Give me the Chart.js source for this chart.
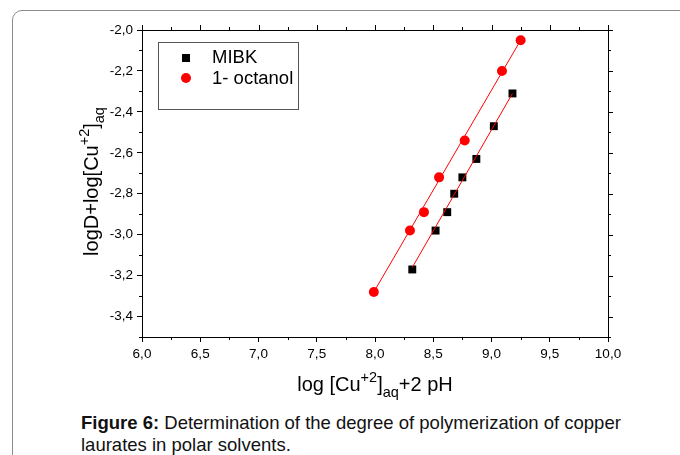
<!DOCTYPE html>
<html>
<head>
<meta charset="utf-8">
<script src="https://cdn.jsdelivr.net/npm/chart.js@4/dist/chart.umd.min.js"></script>
<style>
    html, body { margin: 0; padding: 0; background: #fff; overflow: hidden; }
    body { width: 680px; height: 455px; position: relative; font-family: "Liberation Sans", Arial, sans-serif; }
    .frame {
        position: absolute; left: 12px; top: 10px; width: 720px; height: 520px;
        border: 1px solid #8c8c8c; border-radius: 10px;
    }
    #plot { position: absolute; left: 0; top: 0; }
    .caption {
        position: absolute; left: 81px; top: 412px; width: 590px; white-space: nowrap;
        font-size: 18.5px; line-height: 22px; color: #111;
    }
    .caption b { font-weight: bold; }
</style>
</head>
<body>
<div class="frame"></div>
<canvas id="plot" width="680" height="400"></canvas>
<div class="caption"><b>Figure 6:</b> Determination of the degree of polymerization of copper<br>laurates in polar solvents.</div>

<script>
// ==========================================
// logD + log[Cu+2]aq vs log[Cu+2]aq + 2 pH
// ==========================================

const FONT = '"Liberation Sans", Arial, sans-serif';

// Measured points
const mibkX = [8.32, 8.52, 8.62, 8.68, 8.75, 8.87, 9.02, 9.18];
const mibkY = [-3.17, -2.98, -2.89, -2.80, -2.72, -2.63, -2.47, -2.31];
const octanolX = [7.99, 8.30, 8.42, 8.55, 8.77, 9.09, 9.25];
const octanolY = [-3.28, -2.98, -2.89, -2.72, -2.54, -2.20, -2.05];

// Fitted straight lines (end points)
const mibkFitX = [8.32, 9.18];
const mibkFitY = [-3.16, -2.31];
const octanolFitX = [7.99, 9.25];
const octanolFitY = [-3.28, -2.05];

// Axis ranges and ticks
const xRange = [6.0, 10.0];
const yRange = [-3.5, -2.0];
const xMajor = 0.5, xMinor = 0.25;
const yMajor = 0.2, yMinor = 0.1;

const legendItems = ['MIBK', '1- octanol'];

const toPoints = (xs, ys) => xs.map((x, i) => ({ x: x, y: ys[i] }));
const commaLabel = v => Number(v).toFixed(1).replace('.', ',');

// Text with superscript / subscript pieces, centred on (x, y)
function drawRich(ctx, parts, x, y) {
    let total = 0;
    parts.forEach(p => {
        ctx.font = p.size + 'px ' + FONT;
        p.w = ctx.measureText(p.t).width;
        total += p.w;
    });
    let cx = x - total / 2;
    ctx.textAlign = 'left';
    ctx.textBaseline = 'alphabetic';
    parts.forEach(p => {
        ctx.font = p.size + 'px ' + FONT;
        ctx.fillText(p.t, cx, y + (p.dy || 0));
        cx += p.w;
    });
}

const titleParts = (lead) => [
    { t: lead, size: 20 },
    { t: '+2', size: 14.5, dy: -9 },
    { t: ']', size: 20 },
    { t: 'aq', size: 14.5, dy: 6 }
];

// Box, minor ticks, mirrored ticks, legend and axis titles
const frameDecor = {
    id: 'frameDecor',
    afterDraw(chart) {
        const ctx = chart.ctx;
        const a = chart.chartArea;
        const xs = chart.scales.x, ys = chart.scales.y;
        ctx.save();
        ctx.strokeStyle = '#000';
        ctx.lineWidth = 1;

        ctx.beginPath();
        ctx.moveTo(a.left, a.top + 0.5); ctx.lineTo(a.right, a.top + 0.5);
        ctx.moveTo(a.right + 0.5, a.top); ctx.lineTo(a.right + 0.5, a.bottom);
        ctx.stroke();

        ctx.beginPath();
        const nx = Math.round((xRange[1] - xRange[0]) / xMinor);
        for (let i = 0; i <= nx; i++) {
            const px = Math.round(xs.getPixelForValue(xRange[0] + i * xMinor)) + 0.5;
            const len = i % 2 === 0 ? 5 : 3;
            if (i % 2 === 1) { ctx.moveTo(px, a.bottom); ctx.lineTo(px, a.bottom + len); }
            ctx.moveTo(px, a.top); ctx.lineTo(px, a.top - len);
        }
        const ny = Math.round((yRange[1] - yRange[0]) / yMinor);
        for (let i = 0; i <= ny; i++) {
            const v = yRange[0] + i * yMinor;
            const py = Math.round(ys.getPixelForValue(v)) + 0.5;
            const major = Math.abs(Math.round(v * 10)) % 2 === 0;
            const len = major ? 5 : 3;
            if (!major) { ctx.moveTo(a.left, py); ctx.lineTo(a.left - len, py); }
            ctx.moveTo(a.right, py); ctx.lineTo(a.right + len, py);
        }
        ctx.stroke();

        // legend
        const ds = chart.data.datasets;
        ctx.strokeStyle = '#555';
        ctx.strokeRect(158.5, 42.5, 140, 67);
        ctx.fillStyle = ds[0].backgroundColor;
        ctx.fillRect(182, 54, 8, 8);
        ctx.fillStyle = ds[1].backgroundColor;
        ctx.beginPath();
        ctx.arc(186, 78, 5, 0, Math.PI * 2);
        ctx.fill();
        ctx.fillStyle = '#000';
        ctx.font = '18.5px ' + FONT;
        ctx.textAlign = 'left';
        ctx.textBaseline = 'middle';
        ctx.fillText(legendItems[0], 212, 58);
        ctx.fillText(legendItems[1], 212, 79);

        // axis titles
        ctx.fillStyle = '#000';
        drawRich(ctx, titleParts('log [Cu').concat([{ t: '+2 pH', size: 20 }]), (a.left + a.right) / 2, 391);
        ctx.translate(98, (a.top + a.bottom) / 2 - 2);
        ctx.rotate(-Math.PI / 2);
        drawRich(ctx, titleParts('logD+log[Cu'), 0, 0);
        ctx.restore();
    }
};

new Chart(document.getElementById('plot'), {
    type: 'scatter',
    data: {
        datasets: [
            {
                label: legendItems[0],
                data: toPoints(mibkX, mibkY),
                backgroundColor: '#000',
                borderColor: '#000',
                pointStyle: 'rect',
                pointRadius: 5.6,
                borderWidth: 0,
                order: 1
            },
            {
                label: legendItems[1],
                data: toPoints(octanolX, octanolY),
                backgroundColor: '#ff0000',
                borderColor: '#ff0000',
                pointStyle: 'circle',
                pointRadius: 5,
                borderWidth: 0,
                order: 1
            },
            {
                label: 'fit MIBK',
                data: toPoints(mibkFitX, mibkFitY),
                showLine: true,
                borderColor: '#ff0000',
                borderWidth: 1,
                pointRadius: 0,
                order: 0
            },
            {
                label: 'fit 1- octanol',
                data: toPoints(octanolFitX, octanolFitY),
                showLine: true,
                borderColor: '#ff0000',
                borderWidth: 1,
                pointRadius: 0,
                order: 0
            }
        ]
    },
    options: {
        responsive: false,
        animation: false,
        layout: { padding: { left: 0, top: 30, right: 72, bottom: 0 } },
        plugins: {
            legend: { display: false },
            tooltip: { enabled: false }
        },
        scales: {
            x: {
                type: 'linear',
                min: xRange[0],
                max: xRange[1],
                afterFit: s => { s.height = 63; },
                ticks: {
                    stepSize: xMajor,
                    includeBounds: false,
                    callback: commaLabel,
                    color: '#000',
                    padding: 4,
                    font: { family: FONT, size: 13.5 }
                },
                grid: { drawOnChartArea: false, tickLength: 5, color: '#000' },
                border: { color: '#000', width: 1 }
            },
            y: {
                type: 'linear',
                min: yRange[0],
                max: yRange[1],
                afterFit: s => { s.width = 142; },
                ticks: {
                    stepSize: yMajor,
                    includeBounds: false,
                    callback: commaLabel,
                    color: '#000',
                    padding: 4,
                    font: { family: FONT, size: 13.5 }
                },
                grid: { drawOnChartArea: false, tickLength: 5, color: '#000' },
                border: { color: '#000', width: 1 }
            }
        }
    },
    plugins: [frameDecor]
});
</script>
</body>
</html>
